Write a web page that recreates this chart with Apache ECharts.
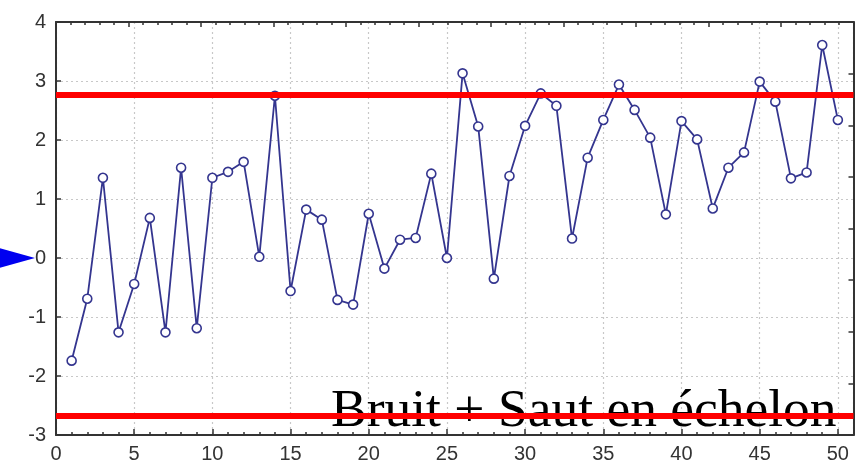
<!DOCTYPE html>
<html>
<head>
<meta charset="utf-8">
<script src="https://cdn.jsdelivr.net/npm/echarts@6/dist/echarts.min.js"></script>
<style>
html,body{margin:0;padding:0;background:#fff;}
#chart{width:856px;height:472px;}
</style>
</head>
<body>
<div id="chart"></div>
<script>
const steps = [1,2,3,4,5,6,7,8,9,10,11,12,13,14,15,16,17,18,19,20,21,22,23,24,25,26,27,28,29,30,31,32,33,34,35,36,37,38,39,40,41,42,43,44,45,46,47,48,49,50];
const values = [-1.74,-0.69,1.36,-1.26,-0.44,0.68,-1.26,1.53,-1.19,1.36,
                1.46,1.63,0.02,2.75,-0.56,0.82,0.65,-0.71,-0.79,0.75,
                -0.18,0.31,0.34,1.43,0.00,3.13,2.23,-0.35,1.39,2.24,
                2.79,2.58,0.33,1.70,2.34,2.94,2.51,2.04,0.74,2.32,
                2.01,0.84,1.53,1.79,2.99,2.65,1.35,1.45,3.61,2.34];
const thresholds = [2.77, -2.67];
const xTicks = [0,5,10,15,20,25,30,35,40,45,50];
const yTicks = [-3,-2,-1,0,1,2,3,4];
const annotation = 'Bruit + Saut en échelon';
const arrowTarget = 0;

const chart = echarts.init(document.getElementById('chart'), null, {renderer:'canvas'});
const axisCol = '#333';
const gridLine = {show:true, lineStyle:{color:'#c8c8c8', width:1.2, type:[2,3]}};

const option = {
  backgroundColor:'#ffffff',
  animation:false,
  grid:{left:56, right:2.5, top:22, bottom:37, containLabel:false, outerBoundsMode:'none'},
  xAxis:[
    {type:'value', position:'bottom', min:0, max:51, interval:5,
     axisLine:{show:true, onZero:false, lineStyle:{color:axisCol, width:2}},
     axisTick:{show:true, inside:true, length:6, lineStyle:{color:axisCol, width:1.5}},
     splitLine:gridLine,
     axisLabel:{show:true, fontFamily:'Liberation Sans', fontSize:20, color:'#333', margin:9,
       showMaxLabel:false, formatter:v => xTicks.includes(v) ? String(v) : ''}},
    {type:'value', position:'bottom', min:0, max:51, interval:1,
     axisLine:{show:false, onZero:false},
     axisTick:{show:true, inside:true, length:3, lineStyle:{color:axisCol, width:1.5}},
     splitLine:{show:false}, axisLabel:{show:false}},
    {type:'value', position:'top', min:0, max:55, interval:5,
     axisLine:{show:true, onZero:false, lineStyle:{color:axisCol, width:2}},
     axisTick:{show:true, inside:true, length:5, lineStyle:{color:axisCol, width:1.5}},
     minorTick:{show:true, splitNumber:5, length:3, lineStyle:{color:axisCol, width:1.5}},
     splitLine:{show:false}, axisLabel:{show:false}}
  ],
  yAxis:[
    {type:'value', position:'left', min:-3, max:4, interval:1,
     axisLine:{show:true, onZero:false, lineStyle:{color:axisCol, width:2}},
     axisTick:{show:true, inside:true, length:5, lineStyle:{color:axisCol, width:1.5}},
     splitLine:gridLine,
     axisLabel:{show:true, fontFamily:'Liberation Sans', fontSize:20, color:'#333', margin:10,
       formatter:v => yTicks.includes(v) ? String(v) : ''}},
    {type:'value', position:'right', min:0, max:8, interval:1,
     axisLine:{show:true, onZero:false, lineStyle:{color:axisCol, width:2}},
     axisTick:{show:true, inside:true, length:5, lineStyle:{color:axisCol, width:1.5}},
     splitLine:{show:false}, axisLabel:{show:false}}
  ],
  series:[
    {type:'line', xAxisIndex:0, yAxisIndex:0, z:3,
     data: steps.map((s,i)=>[s, values[i]]),
     symbol:'circle', symbolSize:9, showSymbol:true,
     lineStyle:{color:'#34358f', width:1.8},
     itemStyle:{color:'#ffffff', borderColor:'#34358f', borderWidth:1.6}},
    {type:'line', xAxisIndex:0, yAxisIndex:0, z:10, data:[], silent:true,
     markLine:{silent:true, z:50, symbol:['none','none'], label:{show:false},
       lineStyle:{color:'#ff0000', width:6, type:'solid'},
       data: thresholds.map(t=>({yAxis:t}))}}
  ]
};
chart.setOption(option);

const yZero = chart.convertToPixel({yAxisIndex:0}, arrowTarget);
chart.setOption({
  graphic:[
    {type:'text', z:1, left:331, top:385,
     style:{text:annotation, font:'53.5px "Liberation Serif"', fill:'#000', verticalAlign:'middle', align:'left'}},
    {type:'polygon', z:5, shape:{points:[[-4,yZero-11],[35,yZero],[-4,yZero+11]]}, style:{fill:'#0000f0'}}
  ]
});
</script>
</body>
</html>
